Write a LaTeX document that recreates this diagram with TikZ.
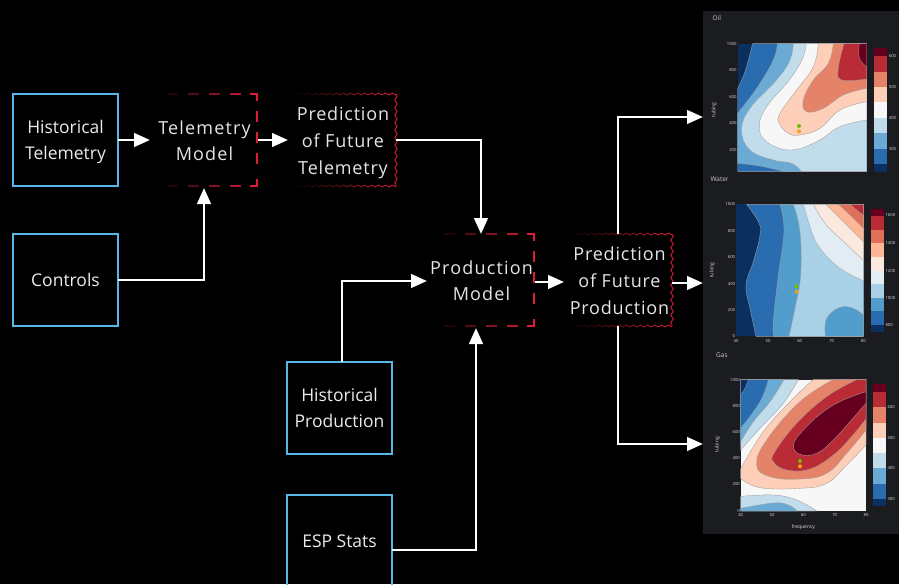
\documentclass[tikz,border=0pt]{standalone}
\usepackage{fontspec}
\setmainfont{Open Sans}
\newfontfamily\trackfont[LetterSpace=6.5]{Open Sans}
\newfontfamily\lighttrack[LetterSpace=4.5]{Open Sans}
\usetikzlibrary{arrows.meta,decorations.pathmorphing}
\definecolor{panel}{HTML}{1B1C20}
\definecolor{boxblue}{HTML}{58B7E8}
\definecolor{dred}{HTML}{DC1E35}
\definecolor{ca}{HTML}{0B2F5E}
\definecolor{cb}{HTML}{2A6CB0}
\definecolor{cc}{HTML}{6AAAD4}
\definecolor{cd}{HTML}{C1DCEA}
\definecolor{ce}{HTML}{F7F7F7}
\definecolor{cf}{HTML}{FDCFB9}
\definecolor{cg}{HTML}{E58368}
\definecolor{ch}{HTML}{B92B35}
\definecolor{ci}{HTML}{67001F}
\definecolor{wb}{HTML}{539DCC}
\definecolor{wc}{HTML}{A8D0E6}
\definecolor{wd}{HTML}{E1EDF3}
\definecolor{we}{HTML}{FBE9DF}
\definecolor{wf}{HTML}{FDB797}
\definecolor{wg}{HTML}{E26F5A}
\tikzset{
  inbox/.style={draw=boxblue,line width=2.8pt,minimum width=105pt,minimum height=92pt,inner sep=0pt},
  intext/.style={text=white!92!black,align=center,font=\fontsize{17.5}{26}\selectfont,inner sep=0pt},
  modelbox/.style={minimum width=105pt,minimum height=92pt,inner sep=0pt,text=white!90!black,align=center,
    font=\trackfont\fontsize{18}{26}\selectfont},
  predbox/.style={minimum width=105pt,minimum height=92pt,inner sep=0pt,text=white!90!black,align=center,
    font=\lighttrack\fontsize{18}{27}\selectfont},
  flow/.style={draw=white,line width=2.8pt,-{Triangle[length=16pt,width=13.5pt]}},
  band/.style={draw=gray!75,line width=.35pt},
  tick/.style={font=\fontsize{4.2}{4}\selectfont,text=white!85!black,inner sep=0pt},
  axt/.style={font=\fontsize{5}{5}\selectfont,text=white!85!black,inner sep=0pt},
  ptitle/.style={font=\fontsize{6.5}{7}\selectfont,text=white!80!black,inner sep=0pt,anchor=west},
  sm/.style={smooth,tension=.7},
  greendot/.style={fill={rgb,255:red,110;green,190;blue,10}},
  orangedot/.style={fill={rgb,255:red,245;green,160;blue,20}}
}
\newcommand{\dashframe}[4]{%
  \foreach \k in {0,...,4}{%
    \pgfmathsetmacro{\xa}{#3-16-21*\k}
    \pgfmathsetmacro{\xb}{\xa-11}
    \pgfmathtruncatemacro{\pc}{max(0,min(100,100*(\xa-#1-12)/(#3-#1-12)))}
    \draw[line width=2.6pt,draw={dred!\pc!black}] (\xa,#2) -- (\xb,#2);
    \draw[line width=2.6pt,draw={dred!\pc!black}] (\xa,#4) -- (\xb,#4);
  }
  \draw[line width=2.6pt,draw=dred] (#3-7,#2) -- (#3,#2) -- (#3,#2+7);
  \draw[line width=2.6pt,draw=dred] (#3-7,#4) -- (#3,#4) -- (#3,#4-7);
  \foreach \k in {0,1,2}{%
    \draw[line width=2.6pt,draw=dred] (#3,#2+17+21*\k) -- (#3,#2+28+21*\k);
  }
}
\newcommand{\waveframe}[4]{%
  \foreach \k in {0,...,28}{%
    \pgfmathsetmacro{\xa}{#3-3.5*\k}
    \pgfmathsetmacro{\xb}{\xa-3.5}
    \pgfmathsetmacro{\sg}{ifthenelse(mod(\k,2)==0,1,-1)}
    \pgfmathtruncatemacro{\pc}{max(0,min(100,100*(\xa-#1)/(#3-#1)))}
    \draw[line width=.9pt,draw={dred!\pc!black}] (\xa,#2+\sg) .. controls (\xa-1.75,#2+\sg) and (\xa-1.75,#2-\sg) .. (\xb,#2-\sg);
    \draw[line width=.9pt,draw={dred!\pc!black}] (\xa,#4+\sg) .. controls (\xa-1.75,#4+\sg) and (\xa-1.75,#4-\sg) .. (\xb,#4-\sg);
  }
  \draw[line width=.9pt,draw=dred,decorate,decoration={snake,amplitude=1.2pt,segment length=7.5pt}] (#3,#2) -- (#3,#4);
}
\newcommand{\barstack}[3]{%
  \foreach \ya/\yb/\colr in {#3}{\fill[\colr] (#1,\ya) rectangle (#2,\yb);}
}
\begin{document}
\begin{tikzpicture}[x=1pt,y=-1pt]
\useasboundingbox (0,0) rectangle (899,584);
\fill[black] (0,0) rectangle (899,584);
\fill[panel] (703,11) rectangle (899,534);

% ---------- Oil
\begin{scope}[shift={(700,0)},scale=.33333]
\node[ptitle] at (37,55) {Oil};
\begin{scope}
\clip (113,131) rectangle (500,515);
\fill[ca] (113,131) rectangle (500,515);
\filldraw[fill=cb,band] plot[sm] coordinates {(113,265) (135,215) (158,131)} -- (500,131) -- (500,515) -- (113,515) -- cycle;
\filldraw[fill=cc,band] plot[sm] coordinates {(232,131) (220,180) (170,265) (113,340)} -- plot[sm] coordinates {(113,490) (180,498) (253,515)} -- (500,515) -- (500,131) -- cycle;
\filldraw[fill=cd,band] plot[sm] coordinates {(280,131) (268,185) (225,245) (150,325) (125,390) (150,450) (220,480) (275,490) (305,515)} -- (500,515) -- (500,131) -- cycle;
\filldraw[fill=ce,band] plot[sm] coordinates {(318,131) (308,175) (268,240) (200,320) (178,380) (200,425) (270,450) (350,425) (420,380) (500,360)} -- (500,131) -- cycle;
\filldraw[fill=cf,band] plot[sm] coordinates {(355,131) (340,200) (290,270) (240,340) (238,370) (265,400) (300,405) (360,385) (420,330) (500,305)} -- (500,131) -- cycle;
\filldraw[fill=cg,band] plot[sm] coordinates {(400,131) (385,190) (340,240) (310,300) (320,335) (370,325) (430,285) (500,265)} -- (500,131) -- cycle;
\filldraw[fill=ch,band] plot[sm] coordinates {(432,131) (415,205) (425,240) (500,237)} -- (500,131) -- cycle;
\filldraw[fill=ci,band] plot[sm] coordinates {(478,131) (478,175) (500,200)} -- (500,131) -- cycle;
\end{scope}
\barstack{522}{562}{145/168/ci,168/215/ch,215/262/cg,262/307/cf,307/353/ce,353/400/cd,400/446/cc,446/492/cb,492/515/ca}
\fill[greendot] (297,378) circle (6);
\fill[orangedot] (297,394) circle (6);
\foreach \v/\y in {1000/131,800/210,600/290,400/370,200/450}{\node[tick,anchor=east] at (110,\y) {\v};}
\foreach \v/\y in {600/168,500/260,400/353,300/446}{\node[tick,anchor=west] at (566,\y) {\v};}
\node[axt,rotate=90] at (42,330) {tubing};
\end{scope}

% ---------- Water
\begin{scope}[shift={(700,175)},scale=.33333]
\node[ptitle] at (31,12) {Water};
\begin{scope}
\clip (108,88) rectangle (490,484);
\fill[ca] (108,88) rectangle (490,484);
\filldraw[fill=cb,band] plot[sm] coordinates {(140,88) (175,140) (180,180) (160,260) (138,330) (150,400) (168,484)} -- (490,484) -- (490,88) -- cycle;
\filldraw[fill=wb,band] plot[sm] coordinates {(240,88) (252,170) (235,300) (220,440) (222,484)} -- (490,484) -- (490,88) -- cycle;
\filldraw[fill=wc,band] plot[sm] coordinates {(280,88) (300,170) (302,300) (285,400) (267,484)} -- (490,484) -- (490,88) -- cycle;
\filldraw[fill=wb,band] plot[sm] coordinates {(376,484) (380,430) (420,397) (460,400) (490,420)} -- (490,484) -- cycle;
\filldraw[fill=wd,band] plot[sm] coordinates {(310,88) (335,170) (360,220) (420,280) (490,317)} -- (490,88) -- cycle;
\filldraw[fill=we,band] plot[sm] coordinates {(340,88) (375,145) (420,190) (490,255)} -- (490,88) -- cycle;
\filldraw[fill=wf,band] plot[sm] coordinates {(378,88) (430,140) (490,200)} -- (490,88) -- cycle;
\filldraw[fill=wg,band] plot[sm] coordinates {(415,88) (450,120) (490,160)} -- (490,88) -- cycle;
\filldraw[fill=ch,band] plot[sm] coordinates {(450,88) (470,105) (490,120)} -- (490,88) -- cycle;
\end{scope}
\barstack{513}{552}{102/123/ci,123/165/ch,165/205/wg,205/245/wf,245/287/we,287/327/wd,327/368/wc,368/408/wb,408/450/cb,450/470/ca}
\fill[greendot] (290,334) circle (6);
\fill[orangedot] (290,350) circle (6);
\foreach \v/\y in {1000/88,800/167,600/246,400/326,200/405,0/484}{\node[tick,anchor=east] at (106,\y) {\v};}
\foreach \v/\x in {40/108,50/204,60/299,70/395,80/490}{\node[tick] at (\x,497) {\v};}
\foreach \v/\y in {1600/120,1400/204,1200/287,1000/369,800/451}{\node[tick,anchor=west] at (556,\y) {\v};}
\node[axt,rotate=90] at (36,286) {tubing};
\end{scope}

% ---------- Gas
\begin{scope}[shift={(700,345)},scale=.33333]
\node[ptitle] at (48,30) {Gas};
\begin{scope}
\clip (122,104) rectangle (498,498);
\fill[ce] (122,104) rectangle (498,498);
\filldraw[fill=cd,band] plot[sm] coordinates {(295,104) (250,175) (180,250) (122,315)} -- (122,104) -- cycle;
\filldraw[fill=cc,band] plot[sm] coordinates {(252,104) (210,170) (160,230) (122,290)} -- (122,104) -- cycle;
\filldraw[fill=cb,band] plot[sm] coordinates {(205,104) (180,170) (122,250)} -- (122,104) -- cycle;
\filldraw[fill=ca,band] plot[sm] coordinates {(145,104) (135,130) (122,150)} -- (122,104) -- cycle;
\filldraw[fill=cd,band] plot[sm] coordinates {(122,454) (220,450) (290,465) (350,498)} -- (122,498) -- cycle;
\filldraw[fill=cc,band] plot[sm] coordinates {(122,490) (220,474) (265,480) (292,498)} -- (122,498) -- cycle;
\filldraw[fill=cf,band] plot[sm] coordinates {(340,104) (280,160) (190,260) (122,372)} -- plot[sm] coordinates {(122,400) (180,428) (300,430) (380,415) (440,360) (498,300)} -- (498,104) -- cycle;
\filldraw[fill=cg,band] plot[sm] coordinates {(400,104) (300,170) (200,285) (170,360) (210,395) (300,402) (380,385) (440,325) (498,255)} -- (498,104) -- cycle;
\filldraw[fill=ch,band] plot[sm] coordinates {(470,104) (380,155) (290,235) (225,320) (220,350) (260,375) (330,372) (400,330) (450,280) (498,222)} -- (498,104) -- cycle;
\filldraw[fill=ci,band] plot[sm] coordinates {(498,140) (430,165) (370,200) (310,255) (280,300) (300,328) (350,325) (400,285) (450,230) (498,175)} -- cycle;
\end{scope}
\barstack{520}{558}{118/140/ci,140/186/ch,186/233/cg,233/278/cf,278/324/ce,324/370/cd,370/416/cc,416/461/cb,461/484/ca}
\fill[greendot] (300,348) circle (6);
\fill[orangedot] (300,364) circle (6);
\foreach \v/\y in {1000/104,800/183,600/261,400/340,200/418,0/497}{\node[tick,anchor=east] at (120,\y) {\v};}
\foreach \v/\x in {40/122,50/216,60/310,70/404,80/498}{\node[tick] at (\x,510) {\v};}
\foreach \v/\y in {600/187,500/278,400/369,300/461}{\node[tick,anchor=west] at (562,\y) {\v};}
\node[axt,rotate=90] at (52,299) {tubing};
\node[axt] at (310,546) {frequency};
\end{scope}

% ---------- nodes
\node[inbox] (ht) at (65.5,140) {};
\node[intext,yshift=-1.5pt] (htt) at (ht.center) {Historical\\Telemetry};
\node[inbox] (ctl) at (65.5,280) {};
\node[intext,yshift=.5pt] (ctlt) at (ctl.center) {Controls};
\node[inbox] (hp) at (339.5,408) {};
\node[intext,yshift=.5pt] (hpt0) at (hp.center) {Historical\\Production};
\node[inbox] (esp) at (339.5,541) {};
\node[intext,yshift=-.5pt] (espt) at (esp.center) {ESP Stats};
\node[modelbox] (tm) at (204.5,141) {Telemetry\\Model};
\node[predbox] (pt) at (343,142.5) {Prediction\\of Future\\Telemetry};
\node[modelbox] (pm) at (481.5,281) {Production\\Model};
\node[predbox] (pp) at (619.5,281) {Prediction\\of Future\\Production};
\dashframe{152}{94}{257}{186}
\dashframe{429}{234}{534}{326}
\waveframe{291}{94}{396}{186}
\waveframe{567}{234}{672}{326}
\coordinate (oilp) at (703,117);
\coordinate (watp) at (703,283);
\coordinate (gasp) at (703,444);
\coordinate (tmin) at (150,140);
\coordinate (tmout) at (258,140);
\coordinate (ptin) at (288,140);
\coordinate (ptout) at (396,140);
\coordinate (pmtop) at (481,234);
\coordinate (pmleft) at (427,281);
\coordinate (pmbot) at (476,328);
\coordinate (tmbot) at (204,188);
\coordinate (pmout) at (535,282);
\coordinate (ppin) at (564,282);
\coordinate (ppr) at (672,283);
\coordinate (ppt) at (618,234);
\coordinate (ppb) at (618,326);
\coordinate (hpt) at (342,362);
\coordinate (espo) at (392,550);
\coordinate (hto) at (118,140);
\coordinate (ctlo) at (118,280);

% ---------- connectors
\draw[flow] (hto) -- (tmin);
\draw[flow] (tmout) -- (ptin);
\draw[flow] (ctlo) -| (tmbot);
\draw[flow] (ptout) -| (pmtop);
\draw[flow] (hpt) |- (pmleft);
\draw[flow] (espo) -| (pmbot);
\draw[flow] (pmout) -- (ppin);
\draw[flow] (ppt) |- (oilp);
\draw[flow] (ppr) -- (watp);
\draw[flow] (ppb) |- (gasp);
\end{tikzpicture}
\end{document}
